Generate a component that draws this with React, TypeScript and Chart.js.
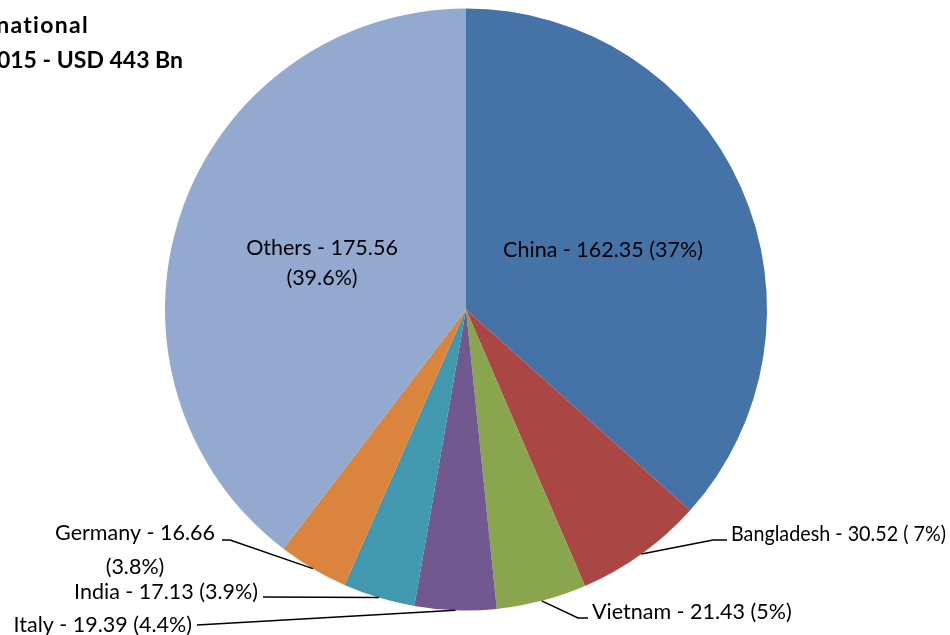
import React, { useEffect, useRef } from "react";
import { Chart, registerables } from "chart.js";

Chart.register(...registerables);

const categories = ["China", "Bangladesh", "Vietnam", "Italy", "India", "Germany", "Others"];
const values = [162.35, 30.52, 21.43, 19.39, 17.13, 16.66, 175.56];
const percentLabels = ["37%", " 7%", "5%", "4.4%", "3.9%", "3.8%", "39.6%"];
const colors = ["#4572A7", "#AA4643", "#89A54E", "#71588F", "#4198AF", "#DB843D", "#93A9CF"];
const titleLines = ["International", "2015 - USD 443 Bn"];

const FONT = "Lato, 'Open Sans', sans-serif";

type LabelLayout = {
  lines: (t: string, v: string, p: string) => string[];
  x: number;
  y: number;
  lineH?: number;
  maxW?: number;
  align: CanvasTextAlign;
  leader?: [number, number][];
};

const layouts: LabelLayout[] = [
  { lines: (t, v, p) => [`${t} - ${v} (${p})`], x: 603, y: 250, align: "center" },
  { lines: (t, v, p) => [`${t} - ${v} (${p})`], x: 731, y: 534, maxW: 215, align: "left", leader: [[713, 540], [727, 540]] },
  { lines: (t, v, p) => [`${t} - ${v} (${p})`], x: 592, y: 612, align: "left", leader: [[578, 618], [588, 618]] },
  { lines: (t, v, p) => [`${t} - ${v} (${p})`], x: 192, y: 625, align: "right", leader: [[197, 625]] },
  { lines: (t, v, p) => [`${t} - ${v} (${p})`], x: 258, y: 592, align: "right", leader: [[263, 597]] },
  { lines: (t, v, p) => [`${t} - ${v}`, `(${p})`], x: 135, y: 533, lineH: 34, align: "center", leader: [[230, 540], [222, 540]] },
  { lines: (t, v, p) => [`${t} - ${v}`, `(${p})`], x: 322, y: 248, lineH: 30, align: "center" },
];

const labelPlugin = {
  id: "customLabels",
  afterDraw(chart: any) {
    const ctx: CanvasRenderingContext2D = chart.ctx;
    const meta = chart.getDatasetMeta(0);
    ctx.save();
    // title
    ctx.fillStyle = "#000";
    ctx.font = `bold 23px ${FONT}`;
    ctx.textBaseline = "alphabetic";
    ctx.textAlign = "right";
    (ctx as any).letterSpacing = "1.3px";
    ctx.fillText(titleLines[0], 89, 33);
    (ctx as any).letterSpacing = "0px";
    ctx.fillText(titleLines[1], 183, 68);

    ctx.font = `21.5px ${FONT}`;
    ctx.textBaseline = "middle";
    meta.data.forEach((arc: any, i: number) => {
      const lay = layouts[i];
      const { x, y, startAngle, endAngle, outerRadius } = arc.getProps(
        ["x", "y", "startAngle", "endAngle", "outerRadius"],
        true
      );
      if (lay.leader) {
        const mid = (startAngle + endAngle) / 2;
        const ax = x + Math.cos(mid) * outerRadius;
        const ay = y + Math.sin(mid) * outerRadius;
        ctx.beginPath();
        ctx.strokeStyle = "#000";
        ctx.lineWidth = 1.5;
        ctx.moveTo(ax, ay);
        lay.leader.forEach(([px, py]) => ctx.lineTo(px, py));
        ctx.stroke();
      }
      const lines = lay.lines(categories[i], values[i].toFixed(2), percentLabels[i]);
      ctx.textAlign = lay.align;
      ctx.fillStyle = "#000";
      lines.forEach((ln, k) => {
        const ty = lay.y + k * (lay.lineH || 30);
        if (lay.maxW) ctx.fillText(ln, lay.x, ty, lay.maxW);
        else ctx.fillText(ln, lay.x, ty);
      });
    });
    ctx.restore();
  },
};

export default function App() {
  const ref = useRef<HTMLCanvasElement | null>(null);
  useEffect(() => {
    if (!ref.current) return;
    const chart = new Chart(ref.current, {
      type: "pie",
      data: {
        labels: categories,
        datasets: [
          {
            data: values,
            backgroundColor: colors,
            borderWidth: 0,
          },
        ],
      },
      options: {
        responsive: false,
        animation: false,
        layout: { padding: { top: 8, bottom: 24, left: 165, right: 183 } },
        plugins: {
          legend: { display: false },
          tooltip: { enabled: false },
          title: { display: false },
        },
      },
      plugins: [labelPlugin],
    });
    return () => chart.destroy();
  }, []);
  return (
    <div style={{ position: "fixed", left: 0, top: 0, width: 950, height: 635, background: "#fff" }}>
      <canvas ref={ref} width={950} height={635} style={{ display: "block", width: 950, height: 635 }} />
    </div>
  );
}
